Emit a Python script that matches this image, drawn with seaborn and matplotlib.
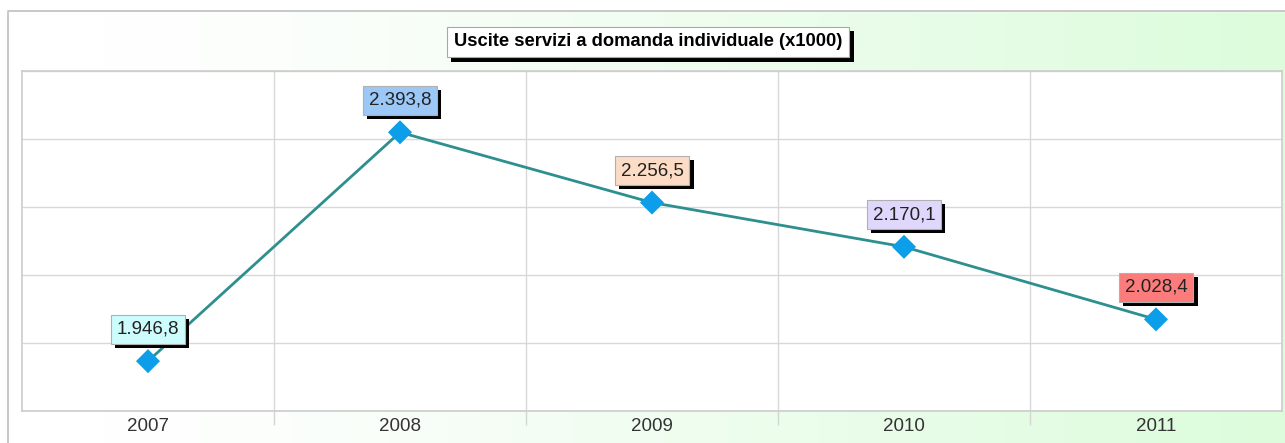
import numpy as np
import pandas as pd
import matplotlib
matplotlib.use("Agg")
import matplotlib.pyplot as plt
import matplotlib.patheffects as pe
from matplotlib.patches import Rectangle
from matplotlib.colors import LinearSegmentedColormap
import seaborn as sns

# Data
years = ["2007", "2008", "2009", "2010", "2011"]
values = [1946.8, 2393.8, 2256.5, 2170.1, 2028.4]
label_colors = ["#ccfcfc", "#9cc8f8", "#fcdcc4", "#e0d8fc", "#fc7c7c"]
title = "Uscite servizi a domanda individuale (x1000)"

sns.set_theme(style="white")
plt.rcParams["font.family"] = ["Liberation Sans", "DejaVu Sans"]

W, H = 1285, 443
fig = plt.figure(figsize=(W / 100, H / 100), dpi=100)

# Background: white to pale green horizontal gradient inside a thin frame
bg = fig.add_axes([0, 0, 1, 1], zorder=-10)
bg.set_axis_off()
grad = np.linspace(0, 1, 512)[None, :]
cmap = LinearSegmentedColormap.from_list(
    "bg", [(0.0, "#ffffff"), (0.08, "#ffffff"), (0.3, "#f9fef9"), (1.0, "#dcfcdc")]
)
bg.imshow(grad, aspect="auto", cmap=cmap, extent=[0, 1, 0, 1], transform=bg.transAxes)
bg.add_patch(Rectangle((0, 0), 8 / W, 1, transform=bg.transAxes, color="white", zorder=2))
bg.add_patch(Rectangle((0, 1 - 11 / H), 1, 11 / H, transform=bg.transAxes, color="white", zorder=2))
bg.plot([8 / W, 8 / W, 1], [0, 1 - 11 / H, 1 - 11 / H], color="#c4c4c4", lw=1.3,
        transform=bg.transAxes, zorder=3)
bg.set_xlim(0, 1)
bg.set_ylim(0, 1)

# Plot area
ax = fig.add_axes([22 / W, 32 / H, 1260 / W, 340 / H])
ax.set_facecolor("white")

pos = np.arange(len(years))
df = pd.DataFrame({"pos": pos, "value": values})

sns.lineplot(data=df, x="pos", y="value", ax=ax, color="#2e8f8f", linewidth=2.0, zorder=3)
sns.scatterplot(data=df, x="pos", y="value", ax=ax, marker="D", s=150, color="#0c9ee8",
                edgecolor="none", zorder=4)

ylo, yhi = min(values) * 0.95, max(values) * 1.05
ax.set_ylim(ylo, yhi)
ax.set_xlim(-0.5, len(years) - 0.5)
ax.set_yticks(np.linspace(ylo, yhi, 6))
ax.set_yticklabels([])
ax.set_xticks(pos)
ax.set_xticklabels(years, fontsize=13.5, color="#333333")
ax.set_xticks(pos[:-1] + 0.5, minor=True)
ax.tick_params(axis="x", which="major", length=0, pad=5)
ax.tick_params(axis="x", which="minor", length=10, width=1, color="#d4d4d4", bottom=True)
ax.tick_params(axis="y", length=0)
ax.grid(axis="y", color="#d8d8d8", linewidth=1)
ax.grid(axis="x", which="minor", color="#d8d8d8", linewidth=1)
ax.set_xlabel("")
ax.set_ylabel("")
for s in ax.spines.values():
    s.set_color("#cccccc")
    s.set_linewidth(1.2)

# Value labels with drop shadow
def it_fmt(v):
    return f"{v:,.1f}".replace(",", "X").replace(".", ",").replace("X", ".")

shadow = [pe.SimplePatchShadow(offset=(3, -3), shadow_rgbFace="black", alpha=1.0), pe.Normal()]
for p, v, c in zip(pos, values, label_colors):
    t = ax.annotate(it_fmt(v), (p, v), xytext=(0, 32), textcoords="offset pixels",
                    ha="center", va="center", fontsize=13.5, color="#222222", zorder=6,
                    bbox=dict(boxstyle="square,pad=0.32", facecolor=c, edgecolor="#b0b0b0",
                              linewidth=0.8))
    t.get_bbox_patch().set_path_effects(shadow)

# Title box
tt = fig.text(0.5045, 1 - 42 / H, title, ha="center", va="center", fontsize=13.2,
              fontweight="bold", color="black",
              bbox=dict(boxstyle="square,pad=0.38", facecolor="white", edgecolor="#a8a8a8",
                        linewidth=0.8))
tt.get_bbox_patch().set_path_effects(shadow)

fig.savefig("out.png", dpi=100)
